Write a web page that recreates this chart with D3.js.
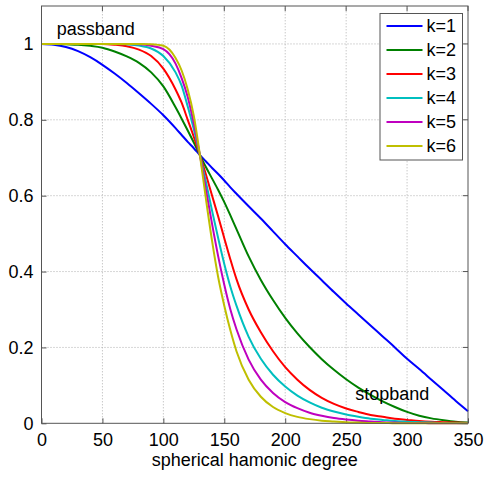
<!DOCTYPE html>
<html>
<head>
<meta charset="utf-8">
<script src="https://cdn.jsdelivr.net/npm/d3@7"></script>
<style>
  body { margin: 0; background: #fff; }
  svg text { font-family: "Liberation Sans", Arial, sans-serif; fill: #000; }
</style>
</head>
<body>
<div id="chart"></div>
<script>
// degrees sampled along the x axis
const degrees = [0, 10, 20, 30, 40, 50, 60, 70, 80, 90, 100, 110, 115, 120, 125, 130, 135, 140, 145, 150, 155, 160,
  170, 180, 190, 200, 210, 220, 230, 240, 250, 260, 270, 280, 290, 300, 310, 320, 330, 340, 350];

const k1 = [1.000, 0.998, 0.992, 0.981, 0.965, 0.945, 0.922, 0.897, 0.870, 0.842, 0.812, 0.778, 0.760, 0.742, 0.725,
  0.707, 0.690, 0.673, 0.657, 0.640, 0.622, 0.605, 0.572, 0.540, 0.506, 0.472, 0.440, 0.408, 0.377, 0.346, 0.316,
  0.287, 0.258, 0.229, 0.200, 0.170, 0.143, 0.115, 0.087, 0.059, 0.032];
const k2 = [1.000, 1.000, 0.999, 0.998, 0.995, 0.990, 0.980, 0.967, 0.950, 0.925, 0.888, 0.833, 0.803, 0.772, 0.740,
  0.707, 0.675, 0.645, 0.615, 0.583, 0.548, 0.512, 0.440, 0.378, 0.325, 0.278, 0.237, 0.201, 0.169, 0.141, 0.116,
  0.094, 0.075, 0.058, 0.043, 0.030, 0.020, 0.013, 0.008, 0.004, 0.002];
const k3 = [1.000, 1.000, 1.000, 1.000, 1.000, 1.000, 0.998, 0.994, 0.985, 0.968, 0.935, 0.880, 0.845, 0.800, 0.755,
  0.707, 0.655, 0.600, 0.545, 0.488, 0.432, 0.380, 0.300, 0.240, 0.190, 0.148, 0.115, 0.088, 0.067, 0.051, 0.039,
  0.030, 0.022, 0.017, 0.012, 0.009, 0.006, 0.004, 0.003, 0.002, 0.001];
const k4 = [1.000, 1.000, 1.000, 1.000, 1.000, 1.000, 1.000, 0.999, 0.996, 0.988, 0.968, 0.925, 0.890, 0.835, 0.775,
  0.707, 0.635, 0.560, 0.488, 0.420, 0.360, 0.310, 0.228, 0.170, 0.128, 0.097, 0.073, 0.055, 0.041, 0.031, 0.023,
  0.017, 0.012, 0.009, 0.006, 0.004, 0.003, 0.002, 0.001, 0.001, 0.000];
const k5 = [1.000, 1.000, 1.000, 1.000, 1.000, 1.000, 1.000, 1.000, 0.999, 0.995, 0.986, 0.948, 0.910, 0.860, 0.790,
  0.707, 0.615, 0.525, 0.440, 0.365, 0.300, 0.248, 0.168, 0.115, 0.080, 0.056, 0.040, 0.028, 0.020, 0.014, 0.010,
  0.007, 0.005, 0.003, 0.002, 0.001, 0.001, 0.000, 0.000, 0.000, 0.000];
const k6 = [1.000, 1.000, 1.000, 1.000, 1.000, 1.000, 1.000, 1.000, 1.000, 0.999, 0.995, 0.963, 0.930, 0.880, 0.810,
  0.707, 0.590, 0.480, 0.385, 0.310, 0.245, 0.190, 0.115, 0.070, 0.043, 0.027, 0.017, 0.011, 0.007, 0.005, 0.003,
  0.002, 0.001, 0.001, 0.000, 0.000, 0.000, 0.000, 0.000, 0.000, 0.000];

const seriesNames = ["k=1", "k=2", "k=3", "k=4", "k=5", "k=6"];
const seriesValues = [k1, k2, k3, k4, k5, k6];
const seriesColors = ["#0000ff", "#008000", "#ff0000", "#00bfbf", "#bf00bf", "#bfbf00"];

const xTicks = [0, 50, 100, 150, 200, 250, 300, 350];
const yTicks = [0, 0.2, 0.4, 0.6, 0.8, 1];

const width = 487, height = 478;
const margin = { left: 41.5, right: 19, top: 6, bottom: 54.7 };

const svg = d3.select("#chart").append("svg")
  .attr("width", width)
  .attr("height", height);

const x = d3.scaleLinear().domain([0, 350]).range([margin.left, width - margin.right]);
const y = d3.scaleLinear().domain([0, 1.1]).range([height - margin.bottom, margin.top]);

// grid
svg.append("g").selectAll("line.gx")
  .data(xTicks.slice(1, -1))
  .enter().append("line")
  .attr("x1", d => x(d)).attr("x2", d => x(d))
  .attr("y1", y(0)).attr("y2", y(1.1))
  .attr("stroke", "#b0b0b0").attr("stroke-width", 1).attr("stroke-dasharray", "1,2");
svg.append("g").selectAll("line.gy")
  .data(yTicks.slice(1))
  .enter().append("line")
  .attr("x1", x(0)).attr("x2", x(350))
  .attr("y1", d => y(d)).attr("y2", d => y(d))
  .attr("stroke", "#b0b0b0").attr("stroke-width", 1).attr("stroke-dasharray", "1,2");

// axes (ticks inside, MATLAB style)
const xAxis = d3.axisBottom(x).tickValues(xTicks).tickSizeInner(-5).tickSizeOuter(0).tickPadding(10);
const yAxis = d3.axisLeft(y).tickValues(yTicks).tickSizeInner(-5).tickSizeOuter(0).tickPadding(8)
  .tickFormat(d3.format("~g"));

const gx = svg.append("g").attr("transform", `translate(0,${y(0)})`).call(xAxis);
const gy = svg.append("g").attr("transform", `translate(${x(0)},0)`).call(yAxis);
[gx, gy].forEach(g => {
  g.select(".domain").remove();
  g.selectAll("line").attr("stroke", "#555");
  g.selectAll("text").style("font-size", "18px").style("font-family", "Liberation Sans, Arial, sans-serif");
});

// top and right ticks
svg.append("g").selectAll("line")
  .data(xTicks)
  .enter().append("line")
  .attr("x1", d => x(d)).attr("x2", d => x(d))
  .attr("y1", y(1.1)).attr("y2", y(1.1) + 5)
  .attr("stroke", "#555");
svg.append("g").selectAll("line")
  .data(yTicks)
  .enter().append("line")
  .attr("x1", x(350)).attr("x2", x(350) - 5)
  .attr("y1", d => y(d)).attr("y2", d => y(d))
  .attr("stroke", "#555");

// curves
const line = d3.line()
  .x((d, i) => x(degrees[i]))
  .y(d => y(d))
  .curve(d3.curveMonotoneX);

svg.append("g").selectAll("path")
  .data(seriesValues)
  .enter().append("path")
  .attr("d", d => line(d))
  .attr("fill", "none")
  .attr("stroke", (d, i) => seriesColors[i])
  .attr("stroke-width", 2);

// axes box
svg.append("rect")
  .attr("x", x(0)).attr("y", y(1.1))
  .attr("width", x(350) - x(0)).attr("height", y(0) - y(1.1))
  .attr("fill", "none").attr("stroke", "#555").attr("stroke-width", 1);

// annotations
svg.append("text")
  .attr("x", x(12.5)).attr("y", y(1.04))
  .attr("dy", "0.35em")
  .style("font-size", "18px")
  .text("passband");
svg.append("text")
  .attr("x", x(257.5)).attr("y", y(0.077))
  .attr("dy", "0.35em")
  .style("font-size", "18px")
  .text("stopband");

// x label
svg.append("text")
  .attr("x", (x(0) + x(350)) / 2).attr("y", 466)
  .attr("text-anchor", "middle")
  .style("font-size", "18px")
  .text("spherical hamonic degree");

// legend
const legend = svg.append("g").attr("transform", "translate(380,13.5)");
legend.append("rect")
  .attr("width", 82.5).attr("height", 146.5)
  .attr("fill", "#fff").attr("stroke", "#555");
const rows = legend.selectAll("g.row")
  .data(seriesNames)
  .enter().append("g")
  .attr("transform", (d, i) => `translate(0,${12.5 + i * 24})`);
rows.append("line")
  .attr("x1", 6.5).attr("x2", 42.5)
  .attr("stroke", (d, i) => seriesColors[i])
  .attr("stroke-width", 2);
rows.append("text")
  .attr("x", 46.5).attr("dy", "0.35em")
  .style("font-size", "18px")
  .text(d => d);
</script>
</body>
</html>
